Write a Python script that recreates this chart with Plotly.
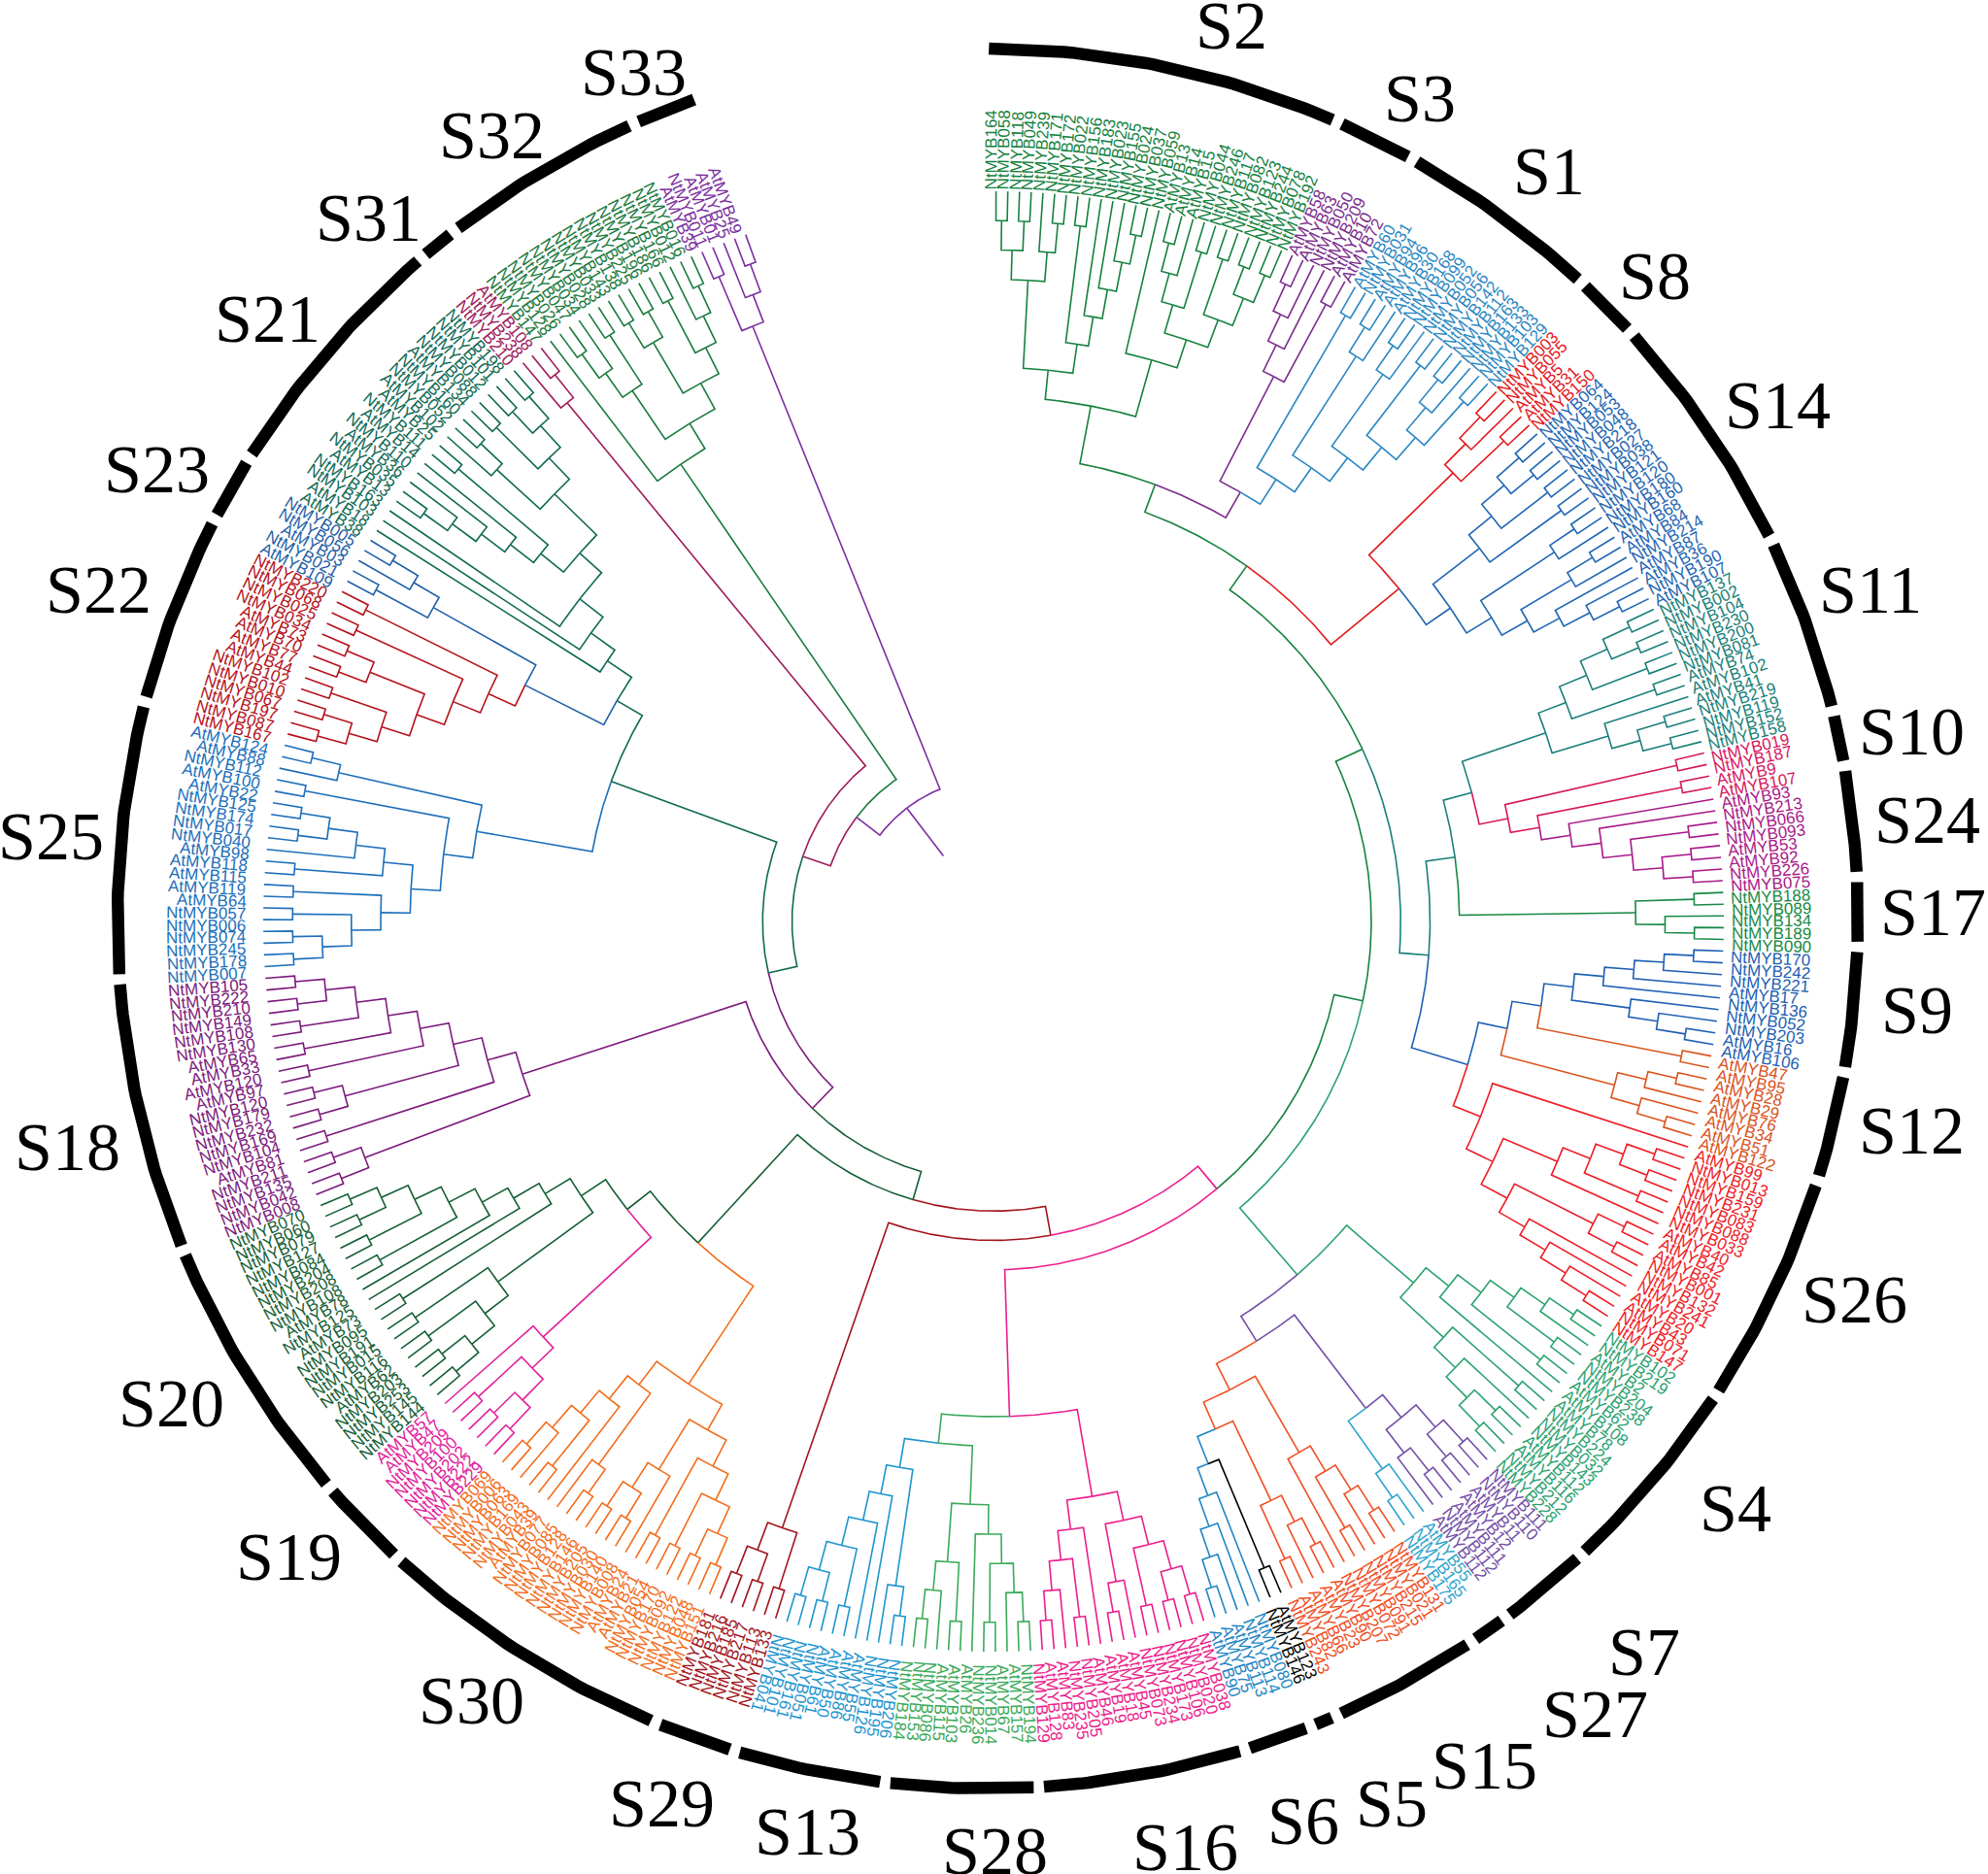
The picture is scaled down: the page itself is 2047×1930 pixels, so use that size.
import numpy as np
import plotly.graph_objects as go

# Branch and label colours for each subgroup
COLORS = {
    "S2": "#15823F", "S3": "#7B2D8E", "S1": "#2A87C2", "S8": "#E31A1C", "S14": "#1F66B3",
    "S11": "#1A7F7A", "S10": "#D6175F", "S24": "#A8188A", "S17": "#178A45", "S9": "#1E5FB4",
    "S12": "#D9541E", "S26": "#EE1C25", "S4": "#2CA26F", "S7": "#7450A8", "S27": "#2FA5CC",
    "S15": "#F04E23", "S5": "#000000", "S6": "#1F86C4", "S16": "#EC1E8C", "S28": "#3BAA5A",
    "S13": "#1E95CF", "S29": "#A2141C", "S30": "#F26C1A", "S19": "#E0219A", "S20": "#145E34",
    "S18": "#7C1A7C", "S25": "#1C6FBA", "S22": "#B5121B", "S23": "#1F5FA8", "S21": "#0F6A54",
    "S31": "#9E1B5A", "S32": "#1A7A3E", "S33": "#7B2FA0",
}

# Subgroup topologies, written clockwise: x = one tip, p = a pair of tips
S2_tree = "((((p,p),(x,p)),(p,(x,(x,(x,p))))),(x,(((p,x),p),(p,(p,p)))))"
S3_tree = "(((p,x),x),p)"
S1_tree = "(p,((p,x),((p,x),(p,((p,x),p)))))"
S8_tree = "((p,x),p)"
S14_tree = "((((p,p),p),p),((p,x),((p,x),(x,(x,p)))))"
S11_tree = "((((p,p),p),p),(x,(p,p)))"
S24_tree = "(x,(x,(p,(p,p))))"
S17_tree = "(p,(x,p))"
S9_tree = "((((p,x),x),x),(x,(x,p)))"
S12_tree = "((p,x),(x,p))"
S26_tree = "(x,((((p,p),p),x),((p,p),(x,(x,(x,p))))))"
S4_tree = "(((((p,x),p),p),x),(p,(x,(p,p))))"
S7_tree = "((p,p),(p,x))"
S27_tree = "(x,p)"
S6_tree = "(x,(x,(x,p)))"
S16_tree = "((((p,p),p),(x,p)),(x,(p,(x,p))))"
S28_tree = "((((p,x),p),x),(p,(x,p)))"
S13_tree = "((p,x),(x,(x,(p,(p,p)))))"
S29_tree = "(p,(p,p))"
S30_tree = "(((((p,p),p),p),(x,(p,p))),((p,x),(x,(p,(x,p)))))"
S19_tree = "(((p,p),p),x)"
S20_tree = "((((p,p),p),p),(p,(x,(x,(p,(p,(p,p)))))))"
S18_tree = "((p,p),(p,((p,p),(p,(p,(p,(p,p)))))))"
S25_tree = "((((((p,p),p),p),(p,(x,(p,p)))),p),(x,p))"
S22_tree = "(((((p,p),p),(p,p)),p),p)"
S23_tree = "(p,(x,p))"
S21_tree = "(x,(x,(x,(((((p,x),x),x),p),((x,p),(p,(p,p)))))))"
S31_tree = "(x,p)"
S32_tree = "(x,(((p,x),p),((p,p),(p,(x,p)))))"
S33_tree = "(p,(x,p))"

# Tip labels, clockwise from the top
S2_labels = ["NtMYB164", "NtMYB058", "NtMYB118", "NtMYB049", "NtMYB239", "NtMYB171", "NtMYB172", "NtMYB022", "NtMYB156",
             "NtMYB183", "NtMYB023", "NtMYB155", "NtMYB024", "NtMYB037", "NtMYB059", "AtMYB13", "AtMYB14", "AtMYB15",
             "NtMYB044", "NtMYB246", "NtMYB117", "NtMYB082", "NtMYB123", "NtMYB244", "NtMYB078", "NtMYB192"]
S3_labels = ["AtMYB58", "AtMYB63", "NtMYB050", "NtMYB209", "AtMYB10", "AtMYB72"]
S1_labels = ["AtMYB60", "NtMYB031", "AtMYB94", "AtMYB96", "AtMYB30", "NtMYB168", "NtMYB099", "NtMYB052", "NtMYB056",
             "NtMYB142", "NtMYB112", "NtMYB163", "NtMYB133", "NtMYB103", "NtMYB129"]
S8_labels = ["NtMYB003", "NtMYB055", "AtMYB5", "AtMYB31", "NtMYB150"]
S14_labels = ["NtMYB064", "NtMYB124", "NtMYB053", "NtMYB048", "NtMYB218", "NtMYB027", "NtMYB038", "NtMYB121", "NtMYB120",
              "NtMYB180", "NtMYB160", "AtMYB68", "AtMYB84", "NtMYB214", "AtMYB87", "AtMYB36", "NtMYB190", "AtMYB107"]
S11_labels = ["NtMYB137", "NtMYB002", "NtMYB104", "NtMYB230", "NtMYB200", "NtMYB081", "AtMYB74", "AtMYB102", "AtMYB41",
              "NtMYB219", "NtMYB119", "NtMYB152", "NtMYB158"]
S10_labels = ["NtMYB019", "NtMYB187", "AtMYB9", "AtMYB107"]
S24_labels = ["AtMYB93", "NtMYB213", "NtMYB066", "NtMYB093", "AtMYB53", "AtMYB92", "NtMYB226", "NtMYB075"]
S17_labels = ["NtMYB188", "NtMYB089", "NtMYB134", "NtMYB189", "NtMYB090"]
S9_labels = ["NtMYB170", "NtMYB242", "NtMYB221", "AtMYB17", "NtMYB136", "NtMYB052", "NtMYB203", "AtMYB16", "AtMYB106"]
S12_labels = ["AtMYB47", "AtMYB95", "AtMYB28", "AtMYB29", "AtMYB76", "AtMYB34", "AtMYB51", "AtMYB122"]
S26_labels = ["AtMYB99", "NtMYB013", "NtMYB159", "NtMYB231", "NtMYB083", "NtMYB088", "NtMYB033", "AtMYB40", "AtMYB42",
              "AtMYB85", "NtMYB001", "NtMYB132", "NtMYB241", "AtMYB20", "AtMYB43", "NtMYB071", "NtMYB147"]
S4_labels = ["NtMYB102", "NtMYB219", "AtMYB2", "NtMYB204", "NtMYB238", "AtMYB62", "AtMYB108", "AtMYB78", "NtMYB224",
             "NtMYB032", "NtMYB143", "AtMYB112", "AtMYB116", "NtMYB212", "NtMYB228"]
S7_labels = ["NtMYB111", "NtMYB110", "AtMYB11", "AtMYB12", "AtMYB111", "NtMYB112", "AtMYB112"]
S27_labels = ["AtMYB55", "NtMYB165", "NtMYB175"]
S15_labels = ["NtMYB131", "NtMYB021", "NtMYB215", "NtMYB091", "NtMYB072", "NtMYB207", "AtMYB90", "AtMYB23", "AtMYB66",
              "AtMYB82", "NtMYB243"]
S5_labels = ["AtMYB123", "NtMYB146"]
S6_labels = ["NtMYB080", "NtMYB114", "AtMYB113", "AtMYB75", "AtMYB90"]
S16_labels = ["NtMYB038", "NtMYB020", "NtMYB106", "NtMYB173", "NtMYB234", "NtMYB073", "AtMYB45", "AtMYB18", "AtMYB19",
              "AtMYB46", "NtMYB205", "NtMYB235", "AtMYB83", "AtMYB128", "NtMYB129"]
S28_labels = ["NtMYB194", "AtMYB157", "AtMYB67", "NtMYB014", "NtMYB236", "AtMYB26", "AtMYB103", "AtMYB115", "NtMYB086",
              "NtMYB153", "NtMYB184"]
S13_labels = ["NtMYB206", "NtMYB195", "NtMYB126", "AtMYB55", "AtMYB86", "AtMYB50", "AtMYB61", "NtMYB051", "NtMYB161",
              "NtMYB101", "NtMYB041"]
S29_labels = ["NtMYB133", "NtMYB113", "NtMYB217", "NtMYB185", "NtMYB216", "NtMYB181"]
S30_labels = ["NtMYB151", "NtMYB048", "NtMYB122", "NtMYB092", "NtMYB170", "NtMYB054", "AtMYB21", "AtMYB24", "NtMYB008",
              "NtMYB140", "NtMYB030", "NtMYB205", "NtMYB146", "NtMYB128", "NtMYB085", "NtMYB077", "AtMYB39", "NtMYB043",
              "NtMYB169", "NtMYB063", "NtMYB006", "NtMYB069"]
S19_labels = ["NtMYB229", "NtMYB222", "NtMYB202", "NtMYB100", "NtMYB209", "AtMYB47", "AtMYB57"]
S20_labels = ["NtMYB144", "NtMYB145", "NtMYB253", "NtMYB203", "AtMYB62", "NtMYB116", "NtMYB015", "NtMYB191", "NtMYB095",
              "AtMYB73", "NtMYB125", "AtMYB78", "NtMYB108", "NtMYB208", "NtMYB204", "NtMYB084", "NtMYB127", "NtMYB079",
              "NtMYB060", "NtMYB070"]
S18_labels = ["NtMYB008", "NtMYB042", "NtMYB135", "NtMYB211", "AtMYB81", "NtMYB104", "NtMYB169", "NtMYB232", "NtMYB179",
              "NtMYB120", "AtMYB97", "AtMYB120", "AtMYB33", "AtMYB65", "NtMYB130", "NtMYB108", "NtMYB149", "NtMYB210",
              "NtMYB222", "NtMYB105"]
S25_labels = ["NtMYB007", "NtMYB178", "NtMYB245", "NtMYB074", "NtMYB006", "NtMYB057", "AtMYB64", "AtMYB119", "AtMYB115",
              "AtMYB118", "AtMYB98", "NtMYB040", "NtMYB017", "NtMYB174", "NtMYB125", "AtMYB22", "AtMYB100", "NtMYB112",
              "AtMYB88", "AtMYB124"]
S22_labels = ["NtMYB167", "NtMYB087", "NtMYB197", "NtMYB067", "NtMYB010", "NtMYB102", "AtMYB44", "AtMYB77", "AtMYB70",
              "AtMYB73", "NtMYB034", "NtMYB025", "NtMYB068", "NtMYB220"]
S23_labels = ["AtMYB109", "NtMYB021", "AtMYB03", "NtMYB056", "NtMYB005"]
S21_labels = ["AtMYB38", "AtMYB18", "NtMYB103", "NtMYB163", "AtMYB13", "NtMYB035", "AtMYB36", "NtMYB110", "AtMYB14",
              "NtMYB111", "AtMYB25", "AtMYB102", "NtMYB052", "NtMYB160", "AtMYB134", "NtMYB088", "NtMYB012", "NtMYB101",
              "NtMYB198"]
S31_labels = ["NtMYB210", "NtMYB238", "AtMYB108"]
S32_labels = ["NtMYB147", "NtMYB128", "NtMYB026", "NtMYB047", "NtMYB034", "NtMYB028", "NtMYB033", "NtMYB143", "NtMYB138",
              "NtMYB225", "NtMYB196", "NtMYB186", "NtMYB166", "NtMYB012", "NtMYB016"]
S33_labels = ["AtMYB39", "NtMYB011", "AtMYB01", "AtMYB25", "AtMYB49"]

clade_order = ["S2", "S3", "S1", "S8", "S14", "S11", "S10", "S24", "S17", "S9", "S12", "S26", "S4", "S7", "S27", "S15",
               "S5", "S6", "S16", "S28", "S13", "S29", "S30", "S19", "S20", "S18", "S25", "S22", "S23", "S21", "S31",
               "S32", "S33"]
clade_labels = {name: globals()[name + "_labels"] for name in clade_order}

# Where the big subgroup names sit, as measured on a 1568 px wide copy of the figure
GROUP_TEXT_POS = {
    "S2": (971, 20), "S3": (1120, 78), "S1": (1222, 135), "S8": (1305, 218), "S14": (1402, 320), "S11": (1475, 465),
    "S10": (1508, 577), "S24": (1520, 647), "S17": (1525, 720), "S9": (1512, 797), "S12": (1508, 892),
    "S26": (1463, 1025), "S4": (1369, 1190), "S7": (1297, 1303), "S27": (1258, 1352), "S15": (1171, 1393),
    "S5": (1098, 1423), "S6": (1028, 1437), "S16": (935, 1457), "S28": (785, 1460), "S13": (637, 1445),
    "S29": (522, 1423), "S30": (372, 1342), "S19": (228, 1228), "S20": (135, 1107), "S18": (53, 905),
    "S25": (40, 660), "S22": (78, 465), "S23": (124, 370), "S21": (211, 252), "S31": (291, 172), "S32": (388, 107),
    "S33": (500, 57),
}
POS_SCALE = 2047 / 1568

# Figure geometry in page pixels
TREE_CENTER = (1023, 949)
RING_CENTER = (1017, 946)
LABEL_CENTER = (1018, 955)
R_TIP = 752
R_STEP = 30.25
R_ROOT = 85
R_RING = 896
R_LABEL = 765
LABEL_SQUASH = 0.993
ANGLE_START = 0.2
ANGLE_STEP = 0.9213
FLIP_AT = 197
LABEL_SIZE = 17
RING_PAD = 0.12
CHAR_W = {"N": 0.722, "t": 0.278, "A": 0.667, "M": 0.833, "Y": 0.667, "B": 0.667}


def read_node(s, i):
    if s[i] == "(":
        left, i = read_node(s, i + 1)
        right, i = read_node(s, i)
        kids = [left, right]
        i += 1
    elif s[i] == "p":
        kids = [{"kids": [], "tag": None}, {"kids": [], "tag": None}]
        i += 1
    else:
        kids = []
        i += 1
    j = i
    while j < len(s) and s[j] not in ",)(":
        j += 1
    return {"kids": kids, "tag": s[i:j] or None}, j + (1 if j < len(s) and s[j] == "," else 0)


# Backbone joining the subgroups, a tag after a bracket names the colour of that branch
t10 = f"(({S2_tree}S2,({S3_tree}S3,{S1_tree}S1)S3)S2,({S8_tree}S8,{S14_tree}S14)S8)S2"
a9 = f"(({S11_tree}S11,(pS10,(pS10,{S24_tree}S24)S10)S10)S11,{S17_tree}S17)S11"
b8 = f"((({S9_tree}S9,pS12)S9,{S12_tree}S12)S9,{S26_tree}S26)S9"
v11 = f"({t10},({a9},{b8})S11)S2"
s15 = "(((p,x),p),x)S15,(((p,x),p)S15,(pS5," + S6_tree + "S6)S6)S15"
u9 = f"({S4_tree}S4,(({S7_tree}S7,{S27_tree}S27)S7,({s15})S15)S7)S4"
w8 = f"({S16_tree}S16,({S28_tree}S28,{S13_tree}S13)S28)S16"
z10 = f"({S30_tree}S30,({S19_tree}S19,{S20_tree}S20)S20)S20"
g11 = f"({S25_tree}S25,(({S22_tree}S22,{S23_tree}S23)S23,{S21_tree}S21)S21)S21"
x13 = f"(({v11},{u9})S2,{w8})S16"
x16 = f"((({x13},{S29_tree}S29)S29,{z10})S20,{S18_tree}S18)S18"
tree_text = f"(((({x16},{g11})S21,{S31_tree}S31)S31,{S32_tree}S32)S33,{S33_tree}S33)S33"

root, _ = read_node(tree_text, 0)

segments = {}
leaf_count = 0


def add_line(color, xs, ys):
    seg = segments.setdefault(color, ([], []))
    seg[0].extend(xs)
    seg[0].append(None)
    seg[1].extend(ys)
    seg[1].append(None)


def polar(r, deg, center=TREE_CENTER, squash=1.0):
    rad = np.radians(deg)
    return center[0] + r * np.sin(rad), center[1] - squash * r * np.cos(rad)


def layout_node(node, color):
    # angle is the middle of the two children, radius follows the height above the tips
    global leaf_count
    node["color"] = COLORS[node["tag"]] if node["tag"] else color
    if not node["kids"]:
        node["angle"] = ANGLE_START + leaf_count * ANGLE_STEP
        node["height"] = 0
        leaf_count += 1
        return
    for kid in node["kids"]:
        layout_node(kid, node["color"])
    node["angle"] = (node["kids"][0]["angle"] + node["kids"][1]["angle"]) / 2
    node["height"] = 1 + max(kid["height"] for kid in node["kids"])


def node_radius(node):
    return R_TIP - R_STEP * node["height"]


def draw_node(node):
    r = node_radius(node)
    for kid in node["kids"]:
        n = max(2, int(abs(kid["angle"] - node["angle"]) * 2) + 2)
        arc = np.linspace(node["angle"], kid["angle"], n)
        xs, ys = polar(r, arc)
        x2, y2 = polar(node_radius(kid), kid["angle"])
        add_line(kid["color"], list(xs) + [x2], list(ys) + [y2])
        draw_node(kid)


layout_node(root, COLORS["S33"])
draw_node(root)

# root stem
x1, y1 = polar(R_ROOT, root["angle"])
x2, y2 = polar(node_radius(root), root["angle"])
add_line(root["color"], [x1, x2], [y1, y2])

fig = go.Figure()
for color, (xs, ys) in segments.items():
    fig.add_trace(go.Scatter(x=xs, y=ys, mode="lines", line=dict(color=color, width=1.6),
                             hoverinfo="skip", showlegend=False))

# tip labels, outer ring and subgroup names
annotations = []
first = 0
for name in clade_order:
    labels = clade_labels[name]
    for k, label in enumerate(labels):
        deg = ANGLE_START + (first + k) * ANGLE_STEP
        width = sum(CHAR_W.get(c, 0.556) for c in label) * LABEL_SIZE
        x, y = polar(R_LABEL + width / 2, deg, LABEL_CENTER, LABEL_SQUASH)
        angle = deg - 90 if deg < FLIP_AT else deg + 90
        annotations.append(dict(x=x, y=y, text=label, textangle=angle,
                                showarrow=False, xanchor="center", yanchor="middle",
                                font=dict(family="Liberation Sans", size=LABEL_SIZE, color=COLORS[name])))
    start = ANGLE_START + first * ANGLE_STEP - RING_PAD
    end = ANGLE_START + (first + len(labels) - 1) * ANGLE_STEP + RING_PAD
    arc = np.linspace(start, end, max(2, int((end - start) * 2) + 2))
    xs, ys = polar(R_RING, arc, RING_CENTER)
    fig.add_trace(go.Scatter(x=xs, y=ys, mode="lines", line=dict(color="black", width=12.5),
                             hoverinfo="skip", showlegend=False))
    px, py = GROUP_TEXT_POS[name]
    annotations.append(dict(x=px * POS_SCALE, y=py * POS_SCALE, text=name,
                            showarrow=False, xanchor="center", yanchor="middle",
                            font=dict(family="Liberation Serif", size=70, color="black")))
    first += len(labels)

assert first == leaf_count, (first, leaf_count)

fig.update_layout(
    width=2047, height=1930,
    margin=dict(l=0, r=0, t=0, b=0),
    plot_bgcolor="white",
    paper_bgcolor="white",
    showlegend=False,
    annotations=annotations,
    xaxis=dict(range=[0, 2047], visible=False, fixedrange=True),
    yaxis=dict(range=[1930, 0], visible=False, fixedrange=True),
)

# drop the default 8 px page margin so the figure fills the window
fig.write_html("out.html", config={"displayModeBar": False},
               post_script="document.body.style.margin='0'")
